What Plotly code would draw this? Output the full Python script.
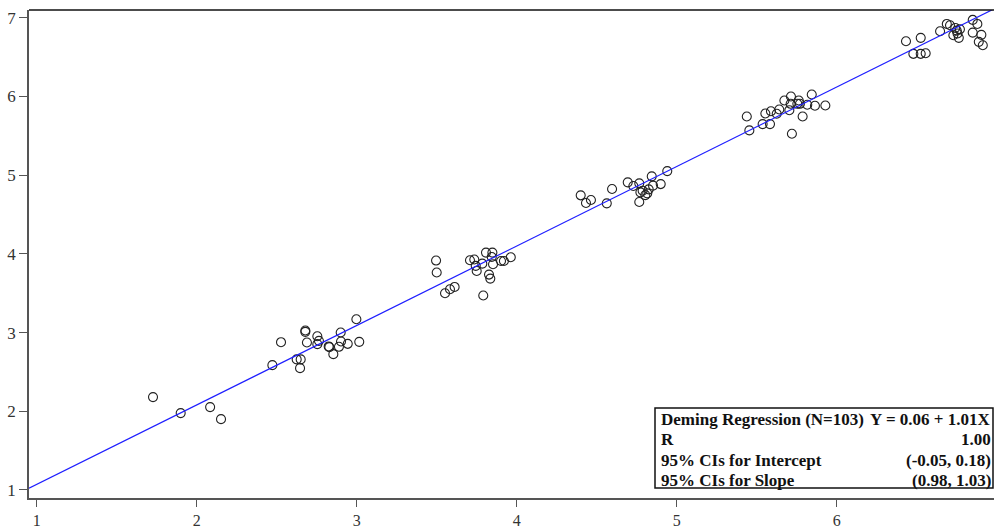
import plotly.graph_objects as go

# Paired measurements (method X vs method Y)
x_vals = [
    1.727, 1.900, 2.084, 2.152,
    2.473, 2.527, 2.625, 2.650, 2.646, 2.679, 2.679, 2.689, 2.754, 2.754,
    2.764, 2.825, 2.829, 2.854, 2.889, 2.900, 2.902, 2.944, 2.998, 3.016,
    3.496, 3.500, 3.552, 3.583, 3.612, 3.708, 3.735, 3.744, 3.750, 3.785,
    3.791, 3.808, 3.827, 3.835, 3.848, 3.844, 3.852, 3.902, 3.920, 3.963,
    4.400, 4.433, 4.464, 4.563, 4.596, 4.694, 4.729, 4.766, 4.773, 4.787,
    4.766, 4.804, 4.816, 4.825, 4.844, 4.852, 4.900, 4.941,
    5.438, 5.454, 5.537, 5.554, 5.583, 5.589, 5.625, 5.641, 5.673, 5.714,
    5.720, 5.704, 5.712, 5.754, 5.763, 5.770, 5.787, 5.816, 5.844, 5.864,
    5.929,
    6.433, 6.479, 6.525, 6.525, 6.556, 6.646, 6.688, 6.708, 6.729, 6.741,
    6.750, 6.763, 6.770, 6.850, 6.879, 6.850, 6.904, 6.888, 6.913, 6.755,
]
y_vals = [
    2.180, 1.977, 2.053, 1.900,
    2.586, 2.878, 2.659, 2.659, 2.548, 3.027, 3.009, 2.874, 2.954, 2.853,
    2.895, 2.824, 2.815, 2.726, 2.819, 3.001, 2.887, 2.857, 3.170, 2.882,
    3.915, 3.763, 3.500, 3.551, 3.580, 3.919, 3.928, 3.847, 3.783, 3.876,
    3.471, 4.016, 3.737, 3.686, 4.016, 3.961, 3.868, 3.910, 3.910, 3.957,
    4.744, 4.646, 4.684, 4.642, 4.824, 4.909, 4.862, 4.896, 4.782, 4.803,
    4.659, 4.747, 4.769, 4.820, 4.985, 4.867, 4.887, 5.052,
    5.746, 5.569, 5.649, 5.784, 5.649, 5.813, 5.780, 5.835, 5.949, 6.000,
    5.527, 5.826, 5.907, 5.907, 5.949, 5.907, 5.746, 5.895, 6.025, 5.882,
    5.886,
    6.702, 6.542, 6.745, 6.542, 6.550, 6.829, 6.922, 6.905, 6.778, 6.871,
    6.837, 6.745, 6.854, 6.973, 6.922, 6.812, 6.783, 6.694, 6.651, 6.800,
]

# Deming regression fit
intercept = 0.06
slope = 1.01

x_ticks = [1, 2, 3, 4, 5, 6]
y_ticks = [1, 2, 3, 4, 5, 6, 7]
x_range = [0.952, 6.983]
y_range = [0.898, 7.099]

stats_labels = ["Deming Regression (N=103)", "R",
                "95% CIs for Intercept", "95% CIs for Slope"]
stats_values = ["Y = 0.06 + 1.01X", "1.00", "(-0.05, 0.18)", "(0.98, 1.03)"]

fig = go.Figure()

fig.add_trace(go.Scatter(
    x=x_vals, y=y_vals, mode="markers",
    marker=dict(symbol="circle-open", size=9, color="#222",
                line=dict(width=1.1, color="#222")),
    showlegend=False, hoverinfo="x+y",
))

line_x = [x_range[0], x_range[1]]
line_y = [intercept + slope * v for v in line_x]
fig.add_trace(go.Scatter(
    x=line_x, y=line_y, mode="lines",
    line=dict(color="#1f1fff", width=1.2),
    showlegend=False, hoverinfo="skip",
))

serif = "Liberation Serif, Times New Roman, serif"

fig.update_layout(
    width=994, height=529,
    margin=dict(l=29, r=0, t=10, b=31, autoexpand=False),
    paper_bgcolor="white", plot_bgcolor="white",
    font=dict(family=serif, size=17, color="#333"),
    xaxis=dict(range=x_range, tickvals=x_ticks, showgrid=False, zeroline=False,
               showline=True, linecolor="#555", linewidth=1.5, automargin=False,
               tickfont=dict(size=16),
               ticks="outside", ticklen=7, tickwidth=1.2, tickcolor="#555"),
    yaxis=dict(range=y_range, tickvals=y_ticks, showgrid=False, zeroline=False,
               showline=True, linecolor="#555", linewidth=1.5, automargin=False,
               ticks="outside", ticklen=8, tickwidth=1.2, tickcolor="#555"),
)

# top border of the frame
fig.add_shape(type="line", xref="paper", yref="paper", x0=0, x1=1, y0=1, y1=1,
              line=dict(color="#111", width=1.5))

# statistics box
plot_h = 529 - 10 - 31
def py_to_paper(py):
    return (498 - py) / plot_h

box_left = (655 - 29) / (994 - 29)
box_right = (993 - 29) / (994 - 29)
fig.add_shape(type="rect", xref="paper", yref="paper",
              x0=box_left, x1=box_right, y0=py_to_paper(488), y1=py_to_paper(408),
              line=dict(color="#111", width=1.5), fillcolor="white", layer="above")

row_y = [419, 439.5, 460, 480]
for lab, val, ry in zip(stats_labels, stats_values, row_y):
    fig.add_annotation(xref="paper", yref="paper", x=(659 - 29) / (994 - 29),
                       y=py_to_paper(ry), text="<b>%s</b>" % lab, showarrow=False,
                       xanchor="left", yanchor="middle",
                       font=dict(family=serif, size=17, color="#111"))
    fig.add_annotation(xref="paper", yref="paper", x=(993 - 29) / (994 - 29),
                       y=py_to_paper(ry), text="<b>%s</b>" % val, showarrow=False,
                       xanchor="right", yanchor="middle",
                       font=dict(family=serif, size=17, color="#111"))

fig.write_html("out.html")
